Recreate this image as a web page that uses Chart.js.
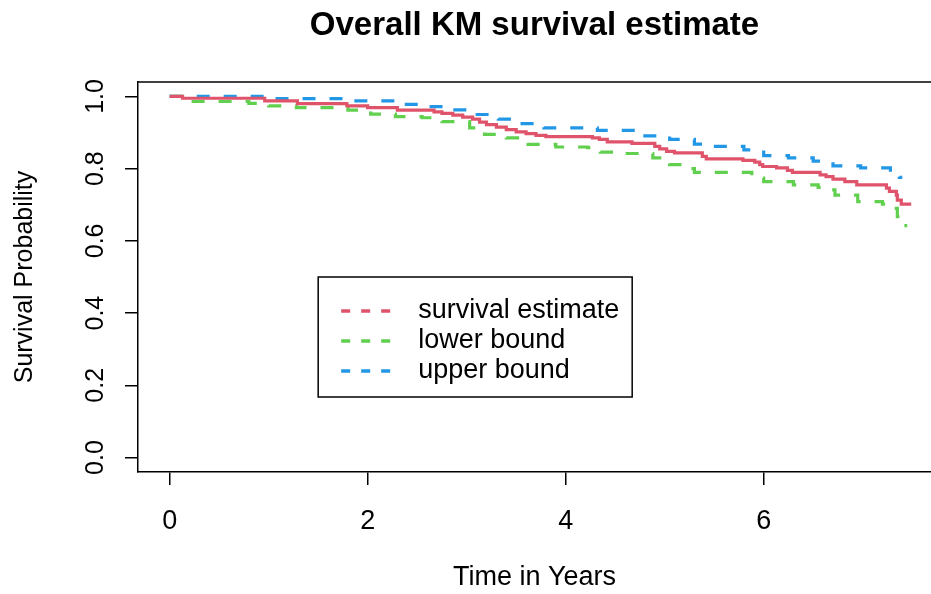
<!DOCTYPE html>
<html>
<head>
<meta charset="utf-8">
<script src="https://cdn.jsdelivr.net/npm/chart.js@4.4.0/dist/chart.umd.min.js"></script>
<style>
  html, body { margin: 0; padding: 0; background: #fff; }
  #wrap { width: 931px; height: 594px; }
</style>
</head>
<body>
<div id="wrap"><canvas id="kmChart"></canvas></div>
<script>
// KM estimate and confidence bounds (time in years)
const kmTime = [0, 0.13, 0.96, 1.29, 1.79, 2.0, 2.30, 2.67, 2.75, 2.86, 2.96, 3.06, 3.13, 3.20, 3.30, 3.40, 3.50, 3.60, 3.70, 3.80, 4.27, 4.34, 4.42, 4.67, 4.90, 4.95, 5.02, 5.10, 5.38, 5.42, 5.79, 5.91, 5.96, 5.99, 6.13, 6.24, 6.29, 6.57, 6.63, 6.70, 6.82, 6.94, 7.24, 7.27, 7.34, 7.35, 7.39, 7.49];
const kmSurv = [1.0, 0.995, 0.988, 0.980, 0.974, 0.969, 0.962, 0.957, 0.953, 0.948, 0.943, 0.937, 0.929, 0.922, 0.915, 0.908, 0.902, 0.897, 0.892, 0.889, 0.885, 0.881, 0.874, 0.870, 0.862, 0.855, 0.848, 0.844, 0.834, 0.827, 0.823, 0.818, 0.811, 0.806, 0.802, 0.795, 0.790, 0.783, 0.778, 0.771, 0.764, 0.755, 0.746, 0.737, 0.727, 0.713, 0.702, 0.702];

const lowerTime = [0, 0.12, 0.80, 1.00, 1.28, 1.80, 2.03, 2.28, 2.55, 2.75, 3.03, 3.18, 3.40, 3.62, 3.90, 4.22, 4.35, 4.60, 4.88, 5.05, 5.25, 5.30, 5.88, 5.93, 6.00, 6.30, 6.55, 6.62, 6.72, 6.95, 7.20, 7.25, 7.35, 7.40, 7.45];
const lowerSurv = [1.0, 0.986, 0.981, 0.974, 0.969, 0.962, 0.951, 0.944, 0.941, 0.930, 0.913, 0.895, 0.885, 0.867, 0.860, 0.858, 0.846, 0.842, 0.830, 0.811, 0.800, 0.790, 0.780, 0.774, 0.764, 0.755, 0.748, 0.741, 0.727, 0.709, 0.702, 0.690, 0.667, 0.642, 0.642];

const upperTime = [0, 0.97, 1.85, 2.35, 2.62, 2.85, 3.08, 3.32, 3.56, 3.78, 4.32, 4.80, 5.05, 5.30, 5.40, 5.80, 6.00, 6.25, 6.50, 6.70, 6.98, 7.28, 7.37, 7.40];
const upperSurv = [1.0, 0.994, 0.988, 0.978, 0.972, 0.963, 0.950, 0.937, 0.925, 0.913, 0.906, 0.891, 0.881, 0.868, 0.862, 0.852, 0.836, 0.830, 0.821, 0.808, 0.802, 0.790, 0.776, 0.776];

const seriesLabels = ["survival estimate", "lower bound", "upper bound"];
const xTicks = [0, 2, 4, 6];
const yTicks = [0, 0.2, 0.4, 0.6, 0.8, 1.0];
const yTickLabels = ["0.0", "0.2", "0.4", "0.6", "0.8", "1.0"];
const legendAt = { x: 1.5, y: 0.5 }; // legend top-left in data units

const FONT = "'Liberation Sans', Arial, sans-serif";

function toPoints(t, s) {
  return t.map((v, i) => ({ x: v, y: s[i] }));
}

// box top edge, rotated y labels and the legend, drawn R-style
const rStyle = {
  id: 'rStyle',
  afterDraw(chart) {
    const ctx = chart.ctx;
    const a = chart.chartArea;
    const xs = chart.scales.x, ys = chart.scales.y;
    ctx.save();
    ctx.strokeStyle = '#000';
    ctx.lineWidth = 1.5;
    ctx.beginPath();
    ctx.moveTo(a.left, a.top);
    ctx.lineTo(a.right, a.top);
    ctx.stroke();

    ctx.fillStyle = '#000';
    ctx.font = '25px ' + FONT;
    ctx.textAlign = 'center';
    ctx.textBaseline = 'middle';
    yTicks.forEach((v, i) => {
      ctx.save();
      ctx.translate(a.left - 42, ys.getPixelForValue(v));
      ctx.rotate(-Math.PI / 2);
      ctx.fillText(yTickLabels[i], 0, 0);
      ctx.restore();
    });

    // legend
    const lx = xs.getPixelForValue(legendAt.x);
    const ly = ys.getPixelForValue(legendAt.y);
    ctx.strokeRect(lx, ly, 314, 120);
    ctx.font = '27px ' + FONT;
    chart.data.datasets.forEach((ds, i) => {
      const yy = ly + 34 + i * 30;
      ctx.save();
      ctx.strokeStyle = ds.borderColor;
      ctx.lineWidth = 3.5;
      ctx.setLineDash([9, 11]);
      ctx.beginPath();
      ctx.moveTo(lx + 23, yy);
      ctx.lineTo(lx + 75, yy);
      ctx.stroke();
      ctx.restore();
      ctx.textAlign = 'left';
      ctx.fillText(ds.label, lx + 100, yy);
    });
    ctx.restore();
  }
};

new Chart(document.getElementById('kmChart'), {
  type: 'line',
  data: {
    datasets: [
      {
        label: seriesLabels[0],
        data: toPoints(kmTime, kmSurv),
        borderColor: '#DF536B',
        borderWidth: 3.2,
        stepped: true,
        pointRadius: 0,
        fill: false
      },
      {
        label: seriesLabels[1],
        data: toPoints(lowerTime, lowerSurv),
        borderColor: '#61D04F',
        borderWidth: 3.2,
        borderDash: [13, 14],
        stepped: true,
        pointRadius: 0,
        fill: false
      },
      {
        label: seriesLabels[2],
        data: toPoints(upperTime, upperSurv),
        borderColor: '#2297E6',
        borderWidth: 3.2,
        borderDash: [13, 14],
        stepped: true,
        pointRadius: 0,
        fill: false
      }
    ]
  },
  options: {
    responsive: true,
    maintainAspectRatio: false,
    animation: false,
    layout: { padding: { left: 0, right: 0, top: 0, bottom: 0 } },
    plugins: {
      legend: { display: false },
      tooltip: { enabled: false },
      title: {
        display: true,
        fullSize: false,
        text: 'Overall KM survival estimate',
        color: '#000',
        font: { family: FONT, size: 33, weight: 'bold' },
        padding: { top: 6, bottom: 36.4 }
      }
    },
    scales: {
      x: {
        type: 'linear',
        min: -0.32,
        max: 7.69,
        afterFit: (s) => { s.height = 122; },
        afterBuildTicks: (s) => { s.ticks = xTicks.map(v => ({ value: v })); },
        border: { display: true, color: '#000', width: 1.5 },
        grid: { display: true, drawOnChartArea: false, drawTicks: true, tickLength: 13, color: '#000', lineWidth: 1.5 },
        ticks: { color: '#000', padding: 20, maxRotation: 0, font: { family: FONT, size: 27 } },
        title: {
          display: true,
          text: 'Time in Years',
          color: '#000',
          font: { family: FONT, size: 27 },
          padding: { top: 0, bottom: 0 }
        }
      },
      y: {
        type: 'linear',
        min: -0.04,
        max: 1.04,
        afterFit: (s) => { s.width = 138; },
        afterBuildTicks: (s) => { s.ticks = yTicks.map(v => ({ value: v })); },
        border: { display: true, color: '#000', width: 1.5 },
        grid: { display: true, drawOnChartArea: false, drawTicks: true, tickLength: 13, color: '#000', lineWidth: 1.5 },
        ticks: { display: false },
        title: {
          display: true,
          text: 'Survival Probability',
          color: '#000',
          font: { family: FONT, size: 25 },
          padding: { top: 10, bottom: 0 }
        }
      }
    }
  },
  plugins: [rStyle]
});
</script>
</body>
</html>
